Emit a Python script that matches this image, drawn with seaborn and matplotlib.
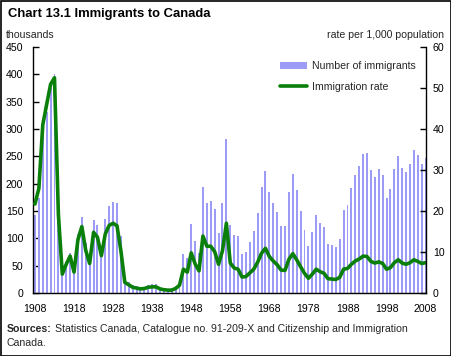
import matplotlib
matplotlib.use("Agg")
import numpy as np
import pandas as pd
import matplotlib.pyplot as plt
import seaborn as sns
from matplotlib.patches import Rectangle

years = list(range(1908, 2009))
immigrants = [143.3, 173.7, 286.8, 331.3, 375.8, 400.9, 150.5, 36.7, 55.9, 72.9,
              41.8, 107.7, 138.8, 91.7, 64.2, 133.7, 124.2, 84.9, 136.0, 158.9,
              166.8, 165.0, 104.8, 27.5, 20.6, 14.4, 12.5, 11.3, 11.6, 15.1,
              17.2, 17.0, 11.3, 9.3, 7.6, 8.5, 12.8, 22.7, 71.7, 64.1,
              125.4, 95.2, 73.9, 194.4, 164.5, 168.9, 154.2, 109.9, 164.9, 282.2,
              124.9, 106.9, 104.1, 71.7, 74.6, 93.2, 112.6, 146.8, 194.7, 223.0,
              183.9, 164.5, 147.7, 121.9, 122.0, 184.2, 218.5, 187.9, 149.4, 114.9,
              86.3, 112.1, 143.1, 128.6, 121.1, 89.2, 88.2, 84.3, 99.2, 152.1,
              161.6, 191.6, 216.5, 232.8, 254.8, 256.6, 224.4, 212.9, 226.1, 216.0,
              174.2, 190.0, 227.5, 250.6, 229.0, 221.3, 235.8, 262.2, 251.6, 236.8,
              247.2]
rate = [21.7, 25.5, 41.0, 46.0, 50.9, 52.5, 19.1, 4.6, 7.0, 9.0,
        5.1, 13.0, 16.2, 10.4, 7.2, 14.8, 13.6, 9.1, 14.4, 16.5,
        17.0, 16.4, 10.3, 2.6, 2.0, 1.4, 1.2, 1.0, 1.1, 1.4,
        1.5, 1.5, 1.0, 0.8, 0.7, 0.7, 1.1, 1.9, 5.8, 5.1,
        9.8, 7.1, 5.4, 13.9, 11.4, 11.4, 10.1, 7.0, 10.3, 17.0,
        7.3, 6.1, 5.8, 3.9, 4.0, 4.9, 5.8, 7.5, 9.7, 10.9,
        8.9, 7.8, 6.9, 5.6, 5.5, 8.2, 9.6, 8.1, 6.4, 4.8,
        3.6, 4.6, 5.8, 5.2, 4.8, 3.5, 3.4, 3.3, 3.8, 5.8,
        6.0, 7.0, 7.8, 8.3, 9.0, 8.9, 7.7, 7.3, 7.6, 7.2,
        5.8, 6.2, 7.4, 8.1, 7.3, 7.0, 7.4, 8.1, 7.7, 7.2,
        7.4]
xtick_years = list(range(1908, 2009, 10))
left_ticks = list(range(0, 451, 50))
right_ticks = list(range(0, 61, 10))

BAR = "#9c9cf7"
GREEN = "#0a7f0a"
FS = 7.6

sns.set_theme(style="white")
plt.rcParams["font.family"] = ["Liberation Sans", "DejaVu Sans"]

W, H = 452, 356
fig = plt.figure(figsize=(W / 100, H / 100), dpi=100)
fig.patch.set_facecolor("white")
ax = fig.add_axes([33 / W, 63 / H, 393 / W, 246 / H])

df = pd.DataFrame({"year": years, "immigrants": immigrants, "rate": rate})
sns.barplot(data=df, x="year", y="immigrants", native_scale=True, width=0.5,
            color=BAR, saturation=1, linewidth=0, ax=ax,
            label="Number of immigrants")
for p in ax.patches:
    p.set_antialiased(False)
ax2 = ax.twinx()
sns.lineplot(data=df, x="year", y="rate", color=GREEN, linewidth=2.6, ax=ax2,
             label="Immigration rate", solid_joinstyle="round", solid_capstyle="round")
if ax2.get_legend() is not None:
    ax2.get_legend().remove()
if ax.get_legend() is not None:
    ax.get_legend().remove()

ax.set_xlim(1907.5, 2008.1)
ax.set_ylim(0, 450)
ax2.set_ylim(0, 60)
ax.set_xticks(xtick_years)
ax.set_xticklabels([str(y) for y in xtick_years])
ax.set_yticks(left_ticks)
ax2.set_yticks(right_ticks)
ax.set_xlabel("")
ax.set_ylabel("")
ax2.set_xlabel("")
ax2.set_ylabel("")

for a in (ax, ax2):
    for s in a.spines.values():
        s.set_color("black")
        s.set_linewidth(1)
    a.spines["top"].set_visible(False)
    a.grid(False)
ax.spines["right"].set_visible(False)
ax2.spines["left"].set_visible(False)
ax2.spines["bottom"].set_visible(False)

ax.tick_params(axis="y", direction="in", length=4, width=1, color="black",
               labelsize=FS, pad=7, labelcolor="black", left=True)
ax.tick_params(axis="x", length=0, labelsize=FS, pad=8, labelcolor="black")
ax2.tick_params(axis="y", direction="in", length=4, width=1, color="black",
                labelsize=FS, pad=5, labelcolor="black", right=True)

fig.text(8 / W, 1 - 14 / H, "Chart 13.1 Immigrants to Canada", fontsize=9.4,
         fontweight="bold", ha="left", va="center", color="black")
fig.text(6 / W, 1 - 35 / H, "thousands", fontsize=FS, ha="left", va="center")
fig.text(444 / W, 1 - 35 / H, "rate per 1,000 population", fontsize=FS,
         ha="right", va="center")

h1, l1 = ax.get_legend_handles_labels()
h2, l2 = ax2.get_legend_handles_labels()
fig.legend(h1 + h2, l1 + l2, loc="upper left",
           bbox_to_anchor=(280 / W, 1 - 61 / H), frameon=False, fontsize=FS,
           handlelength=2.6, handleheight=0.6, handletextpad=0.45, labelspacing=1.0,
           borderaxespad=0, borderpad=0)

t1 = fig.text(7 / W, 1 - 329 / H, "Sources:", fontsize=FS, fontweight="bold",
              ha="left", va="center")
fig.canvas.draw()
bb = t1.get_window_extent(renderer=fig.canvas.get_renderer())
fig.text((bb.x1 + 3) / W, 1 - 329 / H,
         "Statistics Canada, Catalogue no. 91-209-X and Citizenship and Immigration",
         fontsize=FS, ha="left", va="center")
fig.text(7 / W, 1 - 343 / H, "Canada.", fontsize=FS, ha="left", va="center")

fig.add_artist(Rectangle((0.5 / W, 0.5 / H), 1 - 1.5 / W, 1 - 1.5 / H,
                         transform=fig.transFigure, fill=False, ec="black", lw=1.2))

fig.savefig("out.png", dpi=100)
